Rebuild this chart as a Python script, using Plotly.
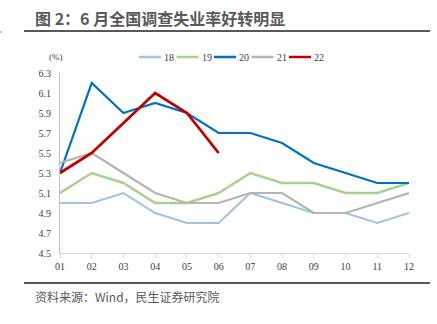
import plotly.graph_objects as go

months = ["01", "02", "03", "04", "05", "06", "07", "08", "09", "10", "11", "12"]
series_names = ["18", "19", "20", "21", "22"]
v18 = [5.0, 5.0, 5.1, 4.9, 4.8, 4.8, 5.1, 5.0, 4.9, 4.9, 4.8, 4.9]
v19 = [5.1, 5.3, 5.2, 5.0, 5.0, 5.1, 5.3, 5.2, 5.2, 5.1, 5.1, 5.2]
v20 = [5.3, 6.2, 5.9, 6.0, 5.9, 5.7, 5.7, 5.6, 5.4, 5.3, 5.2, 5.2]
v21 = [5.4, 5.5, 5.3, 5.1, 5.0, 5.0, 5.1, 5.1, 4.9, 4.9, 5.0, 5.1]
v22 = [5.3, 5.5, 5.8, 6.1, 5.9, 5.5]
y_ticks = [4.5, 4.7, 4.9, 5.1, 5.3, 5.5, 5.7, 5.9, 6.1, 6.3]

colors = ["#9DC3E6", "#A9D18E", "#0070C0", "#B4B4B4", "#C00000"]
widths = [2, 2.5, 2.2, 2.2, 2.8]
values = [v18, v19, v20, v21, v22]

W, H = 437, 324
L, R, T, B = 60, 28, 73, 71

def px_x(px):
    return (px - L) / (W - L - R)
def px_y(py):
    return (H - B - py) / (H - T - B)

fig = go.Figure()
xs = list(range(1, 13))
for name, vals, c, w in zip(series_names, values, colors, widths):
    fig.add_trace(go.Scatter(x=xs[:len(vals)], y=vals, mode="lines", name=name,
                             line=dict(color=c, width=w), showlegend=False))

serif = "Times New Roman, Liberation Serif, serif"
fig.update_layout(
    width=W, height=H,
    margin=dict(l=L, r=R, t=T, b=B),
    paper_bgcolor="white", plot_bgcolor="white",
    xaxis=dict(range=[1, 12], tickvals=xs, ticktext=months, showgrid=False,
               showline=True, linecolor="#D9D9D9", linewidth=1,
               ticks="outside", ticklen=4, tickcolor="#D9D9D9",
               tickfont=dict(family=serif, size=10, color="#404040"), zeroline=False),
    yaxis=dict(range=[4.5, 6.3], tickvals=y_ticks, tickformat=".1f", showgrid=False,
               showline=True, linecolor="#BFBFBF", linewidth=1, ticks="",
               tickfont=dict(family=serif, size=10, color="#404040"), zeroline=False,
               ticklabelstandoff=6),
)

fig.add_annotation(text="<b>图 2：6 月全国调查失业率好转明显</b>", xref="paper", yref="paper",
                   x=px_x(33), y=px_y(18), xanchor="left", yanchor="middle",
                   showarrow=False, font=dict(family="Noto Sans CJK SC", size=16, color="#595959"))
fig.add_shape(type="line", xref="paper", yref="paper", x0=px_x(24), x1=px_x(430),
              y0=px_y(31), y1=px_y(31), line=dict(color="#595959", width=2))
fig.add_shape(type="line", xref="paper", yref="paper", x0=px_x(0), x1=px_x(2),
              y0=px_y(32), y1=px_y(32), line=dict(color="#808080", width=1))
fig.add_shape(type="line", xref="paper", yref="paper", x0=px_x(24), x1=px_x(430),
              y0=px_y(283), y1=px_y(283), line=dict(color="#595959", width=2))
fig.add_annotation(text="资料来源：Wind，民生证券研究院", xref="paper", yref="paper",
                   x=px_x(33), y=px_y(296), xanchor="left", yanchor="middle", showarrow=False,
                   font=dict(family="Noto Sans CJK SC", size=12, color="#595959"))
fig.add_annotation(text="(%)", xref="paper", yref="paper", x=px_x(56), y=px_y(57),
                   xanchor="center", yanchor="middle", showarrow=False,
                   font=dict(family=serif, size=9, color="#404040"))

lx = 139
for name, c in zip(series_names, colors):
    fig.add_shape(type="line", xref="paper", yref="paper", x0=px_x(lx), x1=px_x(lx + 22),
                  y0=px_y(57), y1=px_y(57), line=dict(color=c, width=2.5))
    fig.add_annotation(text=name, xref="paper", yref="paper", x=px_x(lx + 23), y=px_y(57),
                       xanchor="left", yanchor="middle", showarrow=False,
                       font=dict(family=serif, size=10, color="#404040"))
    lx += 37.5

fig.write_html("out.html")
